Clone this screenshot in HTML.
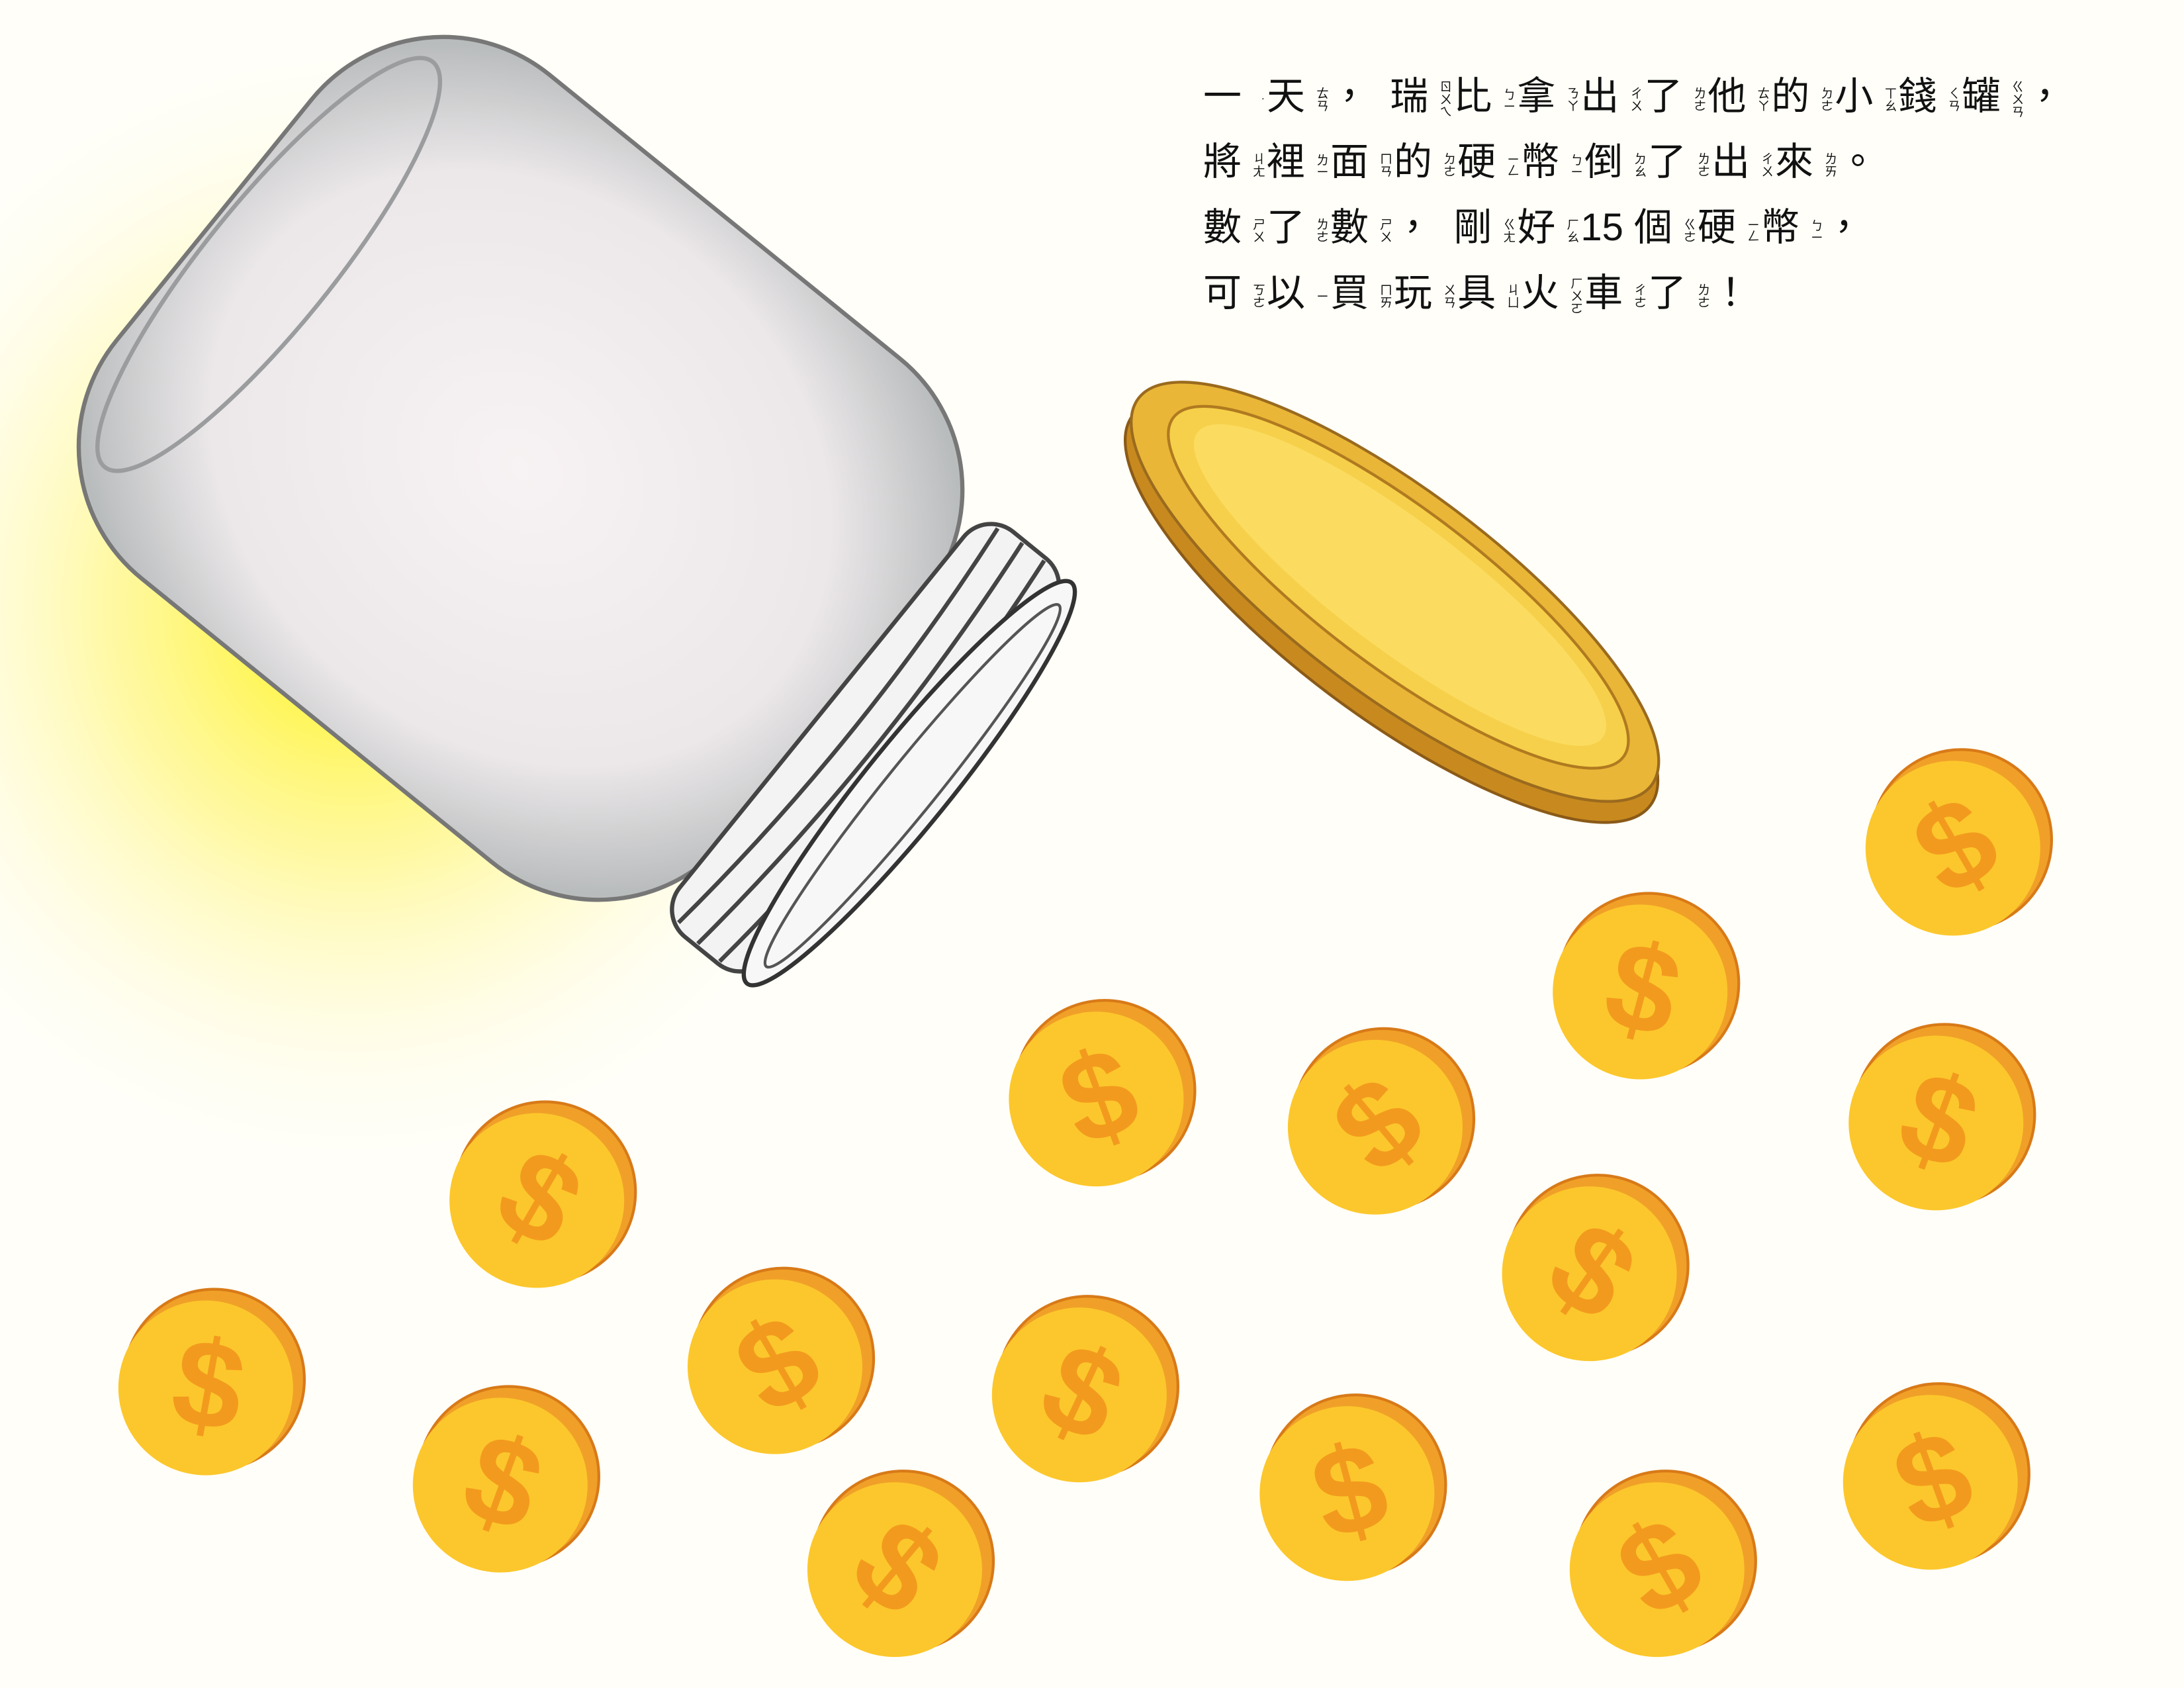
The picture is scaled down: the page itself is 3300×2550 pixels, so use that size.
<!DOCTYPE html>
<html><head><meta charset="utf-8">
<style>
html,body{margin:0;padding:0;}
body{width:3300px;height:2550px;position:relative;overflow:hidden;background:#fffefa;}
svg.bg{position:absolute;left:0;top:0;width:3300px;height:2550px;}
.story{position:absolute;left:1818px;top:96px;font-family:"Liberation Sans","Noto Sans CJK TC",sans-serif;font-size:58px;color:#111;line-height:99px;}
.story .ln{white-space:nowrap;}
.story b{font-weight:normal;}
.story i{font-style:normal;font-size:19px;display:inline-block;width:34px;line-height:20px;vertical-align:middle;writing-mode:vertical-rl;margin-right:4px;}
</style></head>
<body>
<svg class="bg" viewBox="0 0 1550 1198" preserveAspectRatio="none">
<defs>
<radialGradient id="glow" cx="0.5" cy="0.5" r="0.5">
<stop offset="0" stop-color="#fff200" stop-opacity="0.95"/>
<stop offset="0.45" stop-color="#fff56a" stop-opacity="0.6"/>
<stop offset="1" stop-color="#fffef0" stop-opacity="0"/>
</radialGradient>
<radialGradient id="jarfill" cx="0.5" cy="0.5" r="0.6">
<stop offset="0" stop-color="#f7f2f3"/>
<stop offset="0.7" stop-color="#ece8ea"/>
<stop offset="1" stop-color="#b9bcbd"/>
</radialGradient>
</defs>
<rect x="0" y="0" width="1550" height="1198" fill="#fffef8"/>
<ellipse cx="250" cy="430" rx="380" ry="400" fill="url(#glow)"/>
<g transform="translate(385,345) rotate(39)">
<rect x="-300" y="-230" width="560" height="460" rx="120" fill="url(#jarfill)" stroke="#777" stroke-width="3"/>
<ellipse cx="-250" cy="0" rx="45" ry="185" fill="none" stroke="#9a9c9e" stroke-width="3"/>
<rect x="255" y="-185" width="80" height="370" rx="25" fill="#f4f3f4" stroke="#444" stroke-width="3"/>
<path d="M270,-180 Q290,0 270,180 M290,-183 Q310,0 290,183 M310,-183 Q330,0 310,183" fill="none" stroke="#444" stroke-width="3"/>
<ellipse cx="335" cy="0" rx="30" ry="183" fill="#f7f7f7" stroke="#333" stroke-width="3"/>
<ellipse cx="338" cy="0" rx="18" ry="165" fill="none" stroke="#555" stroke-width="2"/>
</g>
<g transform="translate(990,420) rotate(37)">
<ellipse cx="6" cy="12" rx="230" ry="74" fill="#c88a1e" stroke="#8a5a18" stroke-width="2"/>
<ellipse cx="0" cy="0" rx="228" ry="72" fill="#e9b637" stroke="#9a6a1e" stroke-width="2"/>
<ellipse cx="0" cy="-4" rx="200" ry="56" fill="#f6d04a" stroke="#b07a20" stroke-width="2"/>
<ellipse cx="0" cy="-6" rx="180" ry="45" fill="#fbdc60"/>
</g>
<g id="coins"></g>
</svg>
<div class="story">
<div class="ln"><b>一</b><i>˙</i><b>天</b><i>ㄊㄢ</i><b>，</b>&nbsp;&nbsp;<b>瑞</b><i>ㄖㄨㄟ</i><b>比</b><i>ㄅㄧ</i><b>拿</b><i>ㄋㄚ</i><b>出</b><i>ㄔㄨ</i><b>了</b><i>ㄌㄜ</i><b>他</b><i>ㄊㄚ</i><b>的</b><i>ㄉㄜ</i><b>小</b><i>ㄒㄠ</i><b>錢</b><i>ㄑㄢ</i><b>罐</b><i>ㄍㄨㄢ</i><b>，</b></div>
<div class="ln"><b>將</b><i>ㄐㄤ</i><b>裡</b><i>ㄌㄧ</i><b>面</b><i>ㄇㄢ</i><b>的</b><i>ㄉㄜ</i><b>硬</b><i>ㄧㄥ</i><b>幣</b><i>ㄅㄧ</i><b>倒</b><i>ㄉㄠ</i><b>了</b><i>ㄌㄜ</i><b>出</b><i>ㄔㄨ</i><b>來</b><i>ㄌㄞ</i><b>。</b></div>
<div class="ln"><b>數</b><i>ㄕㄨ</i><b>了</b><i>ㄌㄜ</i><b>數</b><i>ㄕㄨ</i><b>，</b>&nbsp;&nbsp;<b>剛</b><i>ㄍㄤ</i><b>好</b><i>ㄏㄠ</i><b>15</b>&nbsp;<b>個</b><i>ㄍㄜ</i><b>硬</b><i>ㄧㄥ</i><b>幣</b><i>ㄅㄧ</i><b>，</b></div>
<div class="ln"><b>可</b><i>ㄎㄜ</i><b>以</b><i>ㄧ</i><b>買</b><i>ㄇㄞ</i><b>玩</b><i>ㄨㄢ</i><b>具</b><i>ㄐㄩ</i><b>火</b><i>ㄏㄨㄛ</i><b>車</b><i>ㄔㄜ</i><b>了</b><i>ㄌㄜ</i><b>！</b></div>
</div>
<script>
const coinX=[148,383,357,552,637,780,768,978,958,1130,1166,1178,1388,1376,1372];
const coinY=[983,850,1052,968,1112,778,988,798,1058,902,702,1112,600,795,1050];
const coinRot=[10,30,20,-30,40,-20,25,-40,-15,35,15,-30,-30,20,-20];
const NS="http://www.w3.org/2000/svg";
const g=document.getElementById('coins');
for(let k=0;k<coinX.length;k++){
  const grp=document.createElementNS(NS,'g');
  grp.setAttribute('transform','translate('+coinX[k]+','+coinY[k]+')');
  
  
  const back=document.createElementNS(NS,'circle');
  back.setAttribute('cx',4);back.setAttribute('cy',-4);back.setAttribute('r',64);
  back.setAttribute('fill','#f0a028');back.setAttribute('stroke','#d87a18');back.setAttribute('stroke-width','2');
  const front=document.createElementNS(NS,'circle');
  front.setAttribute('cx',-2);front.setAttribute('cy',2);front.setAttribute('r',62);
  front.setAttribute('fill','#fcc72c');
  const t=document.createElementNS(NS,'text');
  t.setAttribute('x',0);t.setAttribute('y',30);t.setAttribute('text-anchor','middle');
  t.setAttribute('font-family','Liberation Sans, sans-serif');t.setAttribute('font-size','88');
  t.setAttribute('font-weight','bold');t.setAttribute('fill','#f29a1e');
  t.setAttribute('transform','rotate('+coinRot[k]+')');
  t.textContent='$';
  grp.appendChild(back);grp.appendChild(front);grp.appendChild(t);
  g.appendChild(grp);
}
</script>
</body></html>
